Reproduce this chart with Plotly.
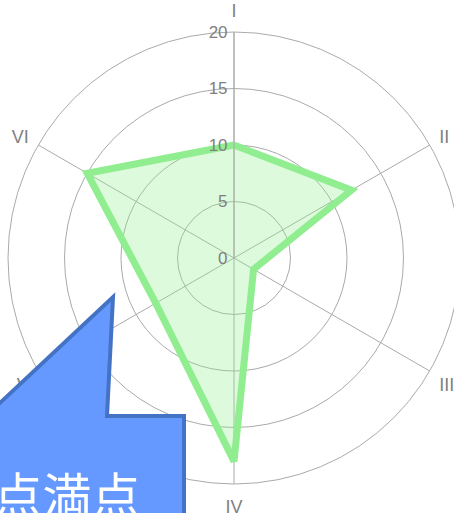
import plotly.graph_objects as go

categories = ["I", "II", "III", "IV", "V", "VI"]
values = [10, 12, 2, 18, 8, 15]
radial_ticks = [0, 5, 10, 15, 20]
callout_text = "20点満点"

W, H = 470, 513
cx, cy, R = 234, 258, 226

def px(x):
    return x / W

def py(y):
    return 1 - y / H

fig = go.Figure()
fig.add_trace(go.Scatterpolar(
    r=values + values[:1],
    theta=categories + categories[:1],
    mode="lines",
    line=dict(color="#90EE90", width=7),
    fill="toself",
    fillcolor="rgba(144,238,144,0.3)",
    hoverinfo="skip",
))

pts = [(-100, 416), (-14, 416), (113, 297), (107, 416), (184, 416), (184, 640), (-100, 640)]
path = "M " + " L ".join(f"{px(x):.5f},{py(y):.5f}" for x, y in pts) + " Z"

fig.update_layout(
    width=W, height=H,
    margin=dict(l=0, r=0, t=0, b=0),
    paper_bgcolor="white",
    showlegend=False,
    font=dict(family="Liberation Sans", color="#777777", size=18),
    polar=dict(
        domain=dict(x=[(cx - R) / W, (cx + R) / W], y=[(H - cy - R) / H, (H - cy + R) / H]),
        bgcolor="white",
        radialaxis=dict(range=[0, 20], tickvals=radial_ticks, angle=90, tickangle=90,
                        side="counterclockwise",
                        showline=True, linecolor="#aaaaaa", linewidth=1,
                        gridcolor="#aaaaaa", gridwidth=1, ticks="",
                        tickfont=dict(size=17, color="#808080")),
        angularaxis=dict(direction="clockwise", rotation=90, showline=True,
                         linecolor="#aaaaaa", gridcolor="#aaaaaa",
                         ticks="outside", ticklen=7, tickcolor="rgba(0,0,0,0)",
                         tickfont=dict(size=18, color="#808080")),
    ),
    shapes=[dict(type="path", xref="paper", yref="paper", path=path,
                 fillcolor="#6699FF", line=dict(color="#4472C4", width=4), layer="above")],
    annotations=[dict(text=callout_text, xref="paper", yref="paper",
                      x=px(142), y=py(492), xanchor="right", yanchor="middle",
                      showarrow=False,
                      font=dict(family="Noto Sans CJK JP", size=49, color="white"))],
)

fig.write_html("out.html", config={"displayModeBar": False},
               post_script="document.body.style.margin='0';document.body.style.overflow='hidden';document.documentElement.style.overflow='hidden';")
